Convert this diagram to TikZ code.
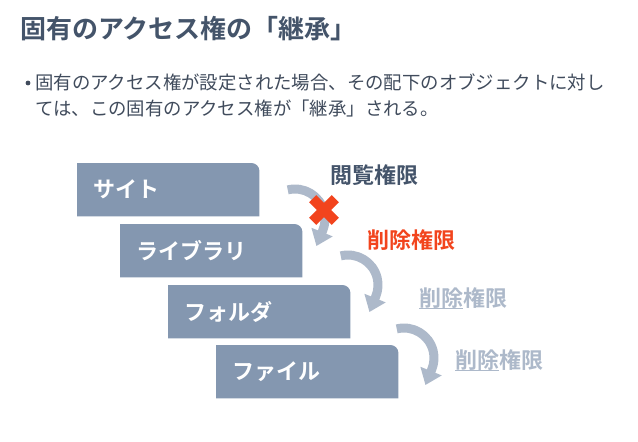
\documentclass[tikz,border=0pt]{standalone}
\usepackage{fontspec}
\setmainfont{Noto Sans CJK JP}[BoldFont={Noto Sans CJK JP Bold}]
\usetikzlibrary{arrows.meta,calc,backgrounds}
\definecolor{dark}{HTML}{44546A}
\definecolor{body}{HTML}{404B5C}
\definecolor{boxc}{HTML}{8497B0}
\definecolor{arrc}{HTML}{ADB9CA}
\definecolor{redc}{HTML}{F2441D}
\tikzset{
  boxnode/.style={text width=150pt, inner xsep=16pt, inner ysep=0pt, minimum height=53pt,
    align=left, text=white, font=\fontsize{22pt}{24pt}\selectfont\bfseries, anchor=north west},
  lbl/.style={inner sep=0pt, anchor=west, font=\fontsize{22pt}{24pt}\selectfont\bfseries},
  arr/.style={line width=9pt, draw=arrc, -{Triangle[width=22pt,length=15pt]}},
  redx/.style={line width=10pt, draw=redc},
  ul/.style={line width=1.6pt, draw=arrc}
}
\begin{document}
\begin{tikzpicture}[x=1pt,y=-1pt]
\path[use as bounding box] (0,0) rectangle (638,442);
% title
\node[inner sep=0pt, anchor=west, text=dark, font=\fontsize{26pt}{30pt}\selectfont\bfseries] (title) at (20,29) {固有のアクセス権の「継承」};
% bullet text
\fill[body] (28,83) circle[radius=2.4pt];
\node[inner sep=0pt, anchor=west, align=left, text=body, font=\fontsize{18.4pt}{26pt}\selectfont] (bodytxt) at (35,95)
  {固有のアクセス権が設定された場合、その配下のオブジェクトに対し\\ては、この固有のアクセス権が「継承」される。};
% boxes
\node[boxnode] (b1) at (77,163) {サイト};
\node[boxnode] (b2) at (120,224) {ライブラリ};
\node[boxnode] (b3) at (168,285) {フォルダ};
\node[boxnode] (b4) at (216,345) {ファイル};
\begin{scope}[on background layer]
\fill[white] (0,0) rectangle (638,442);
\foreach \b in {b1,b2,b3,b4}{
  \fill[boxc] (\b.south west) -- (\b.north west) -- ($(\b.north east)+(-8pt,0pt)$)
    arc[start angle=90, end angle=0, radius=8pt] -- (\b.south east) -- cycle;
}
\end{scope}
% arrows
\coordinate (c1) at (295,219);
\coordinate (c2) at (348,285);
\coordinate (c3) at (404,358);
\foreach \c in {c1,c2,c3}{
  \draw[arr] ($(\c)+(104:30pt)$) arc[start angle=104, end angle=-22, radius=30pt] -- ++(-112:17pt);
}
% red cross
\coordinate (xc) at (324,210);
\draw[redx] ($(xc)+(45:16pt)$) -- ($(xc)+(225:16pt)$);
\draw[redx] ($(xc)+(135:16pt)$) -- ($(xc)+(315:16pt)$);
% labels
\node[lbl, text=dark] (l1) at (330,175) {閲覧権限};
\node[lbl, text=redc] (l2) at (367,240) {削除権限};
\node[lbl, text=arrc] (l3) at (419,298) {削除権限};
\node[lbl, text=arrc] (l4) at (455,360) {削除権限};
\draw[ul] ([yshift=-2pt]l3.base west) -- ++(44pt,0pt);
\draw[ul] ([yshift=-2pt]l4.base west) -- ++(44pt,0pt);
\end{tikzpicture}
\end{document}
